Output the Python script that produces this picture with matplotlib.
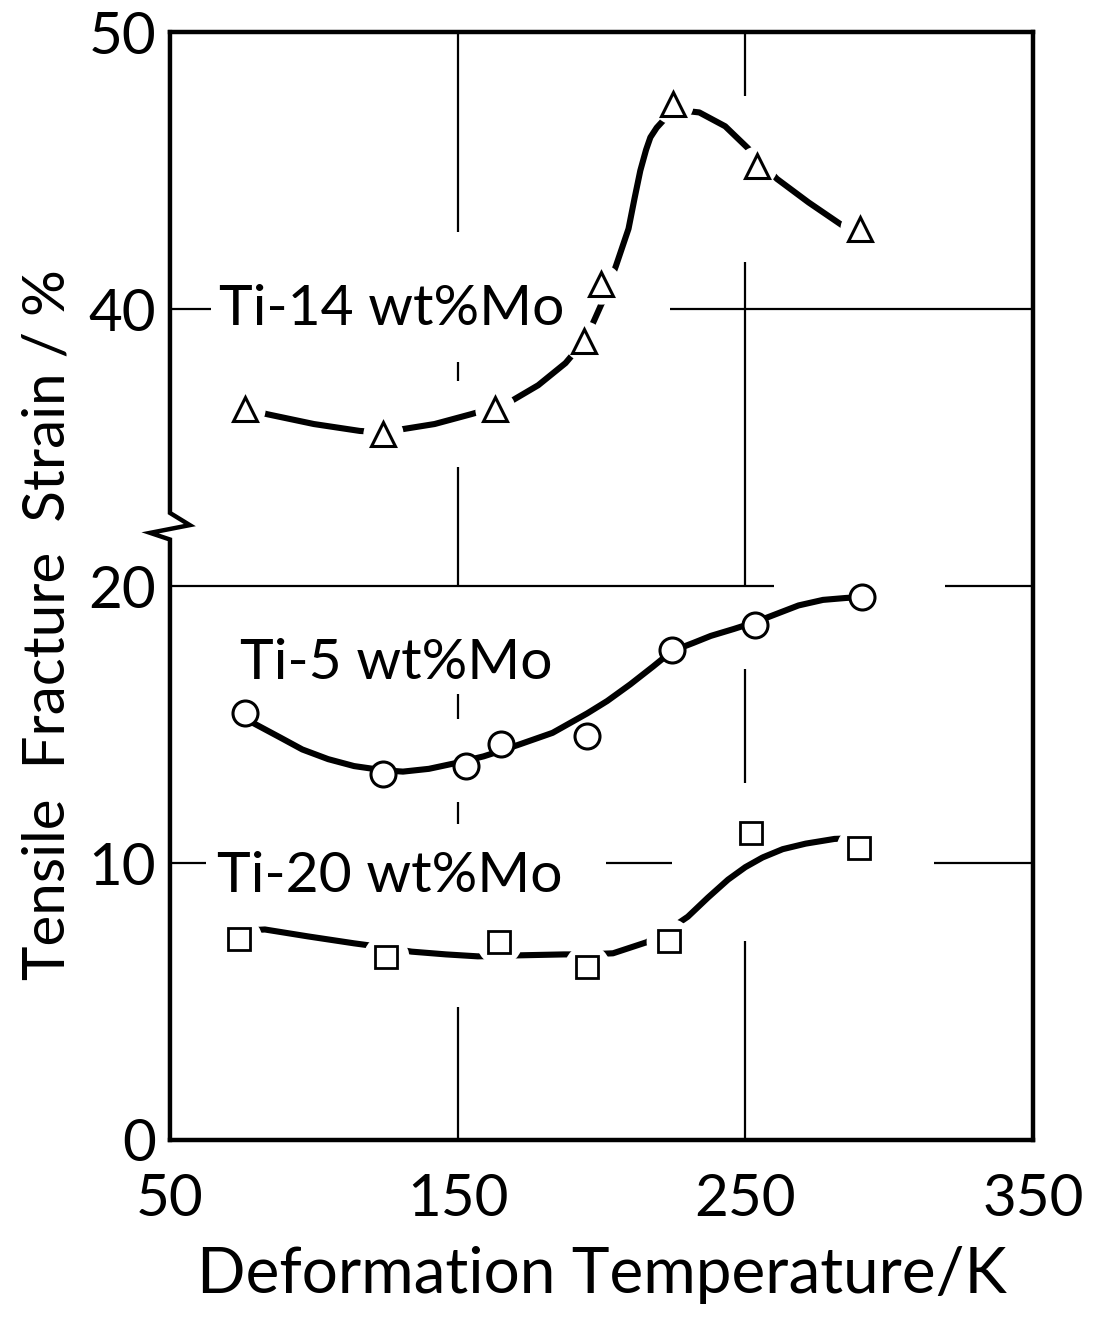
import matplotlib
matplotlib.use('Agg')
import matplotlib.pyplot as plt
import numpy as np

plt.rcParams['font.family'] = ['Lato', 'DejaVu Sans']

# measured points (K, %)
temp_14 = [76, 124, 163, 194, 200, 225, 254, 290]
strain_14 = [36.4, 35.5, 36.4, 38.85, 40.9, 47.4, 45.15, 42.9]
temp_5 = [76, 124, 153, 165, 195, 224.5, 253.5, 290.5]
strain_5 = [15.4, 13.2, 13.5, 14.3, 14.6, 17.7, 18.6, 19.6]
temp_20 = [74, 125, 164.5, 195, 223.5, 252, 289.5]
strain_20 = [7.25, 6.6, 7.15, 6.25, 7.2, 11.1, 10.55]

# hand drawn guide curves
curve_14_t = [76, 84, 100, 116, 124, 130, 142, 154.5, 163, 169, 178, 187.5, 194.4, 197.5,
              200.5, 205, 209.4, 211.5, 213.5, 215.5, 217, 219.2, 221.4, 225.3, 234, 243, 251, 254,
              261, 272, 284, 288]
curve_14_s = [36.4, 36.2, 35.85, 35.6, 35.55, 35.65, 35.85, 36.2, 36.45, 36.7, 37.25, 38.05, 38.9, 39.6,
              40.3, 41.55, 42.9, 44.0, 45.0, 45.75, 46.2, 46.55, 46.8, 47.2, 47.1, 46.6, 45.8, 45.45,
              44.7, 43.85, 43.0, 42.7]
curve_5_t = [76, 79, 88, 96, 105, 114, 124, 131, 140, 149, 153, 159, 165, 172, 183, 195, 202,
             210, 218, 224.5, 232, 238, 246, 253.5, 261, 268.5, 277, 285, 290.5]
curve_5_s = [15.4, 15.05, 14.55, 14.1, 13.75, 13.5, 13.35, 13.3, 13.4, 13.6, 13.7, 13.85, 14.05, 14.3,
             14.7, 15.4, 15.85, 16.45, 17.1, 17.65, 17.95, 18.2, 18.45, 18.7, 19.0, 19.3, 19.5, 19.57, 19.6]
curve_20_t = [74, 83, 98, 114, 124.7, 134, 146, 157, 164.5, 173, 187, 195, 204, 215.7, 223.5,
              230, 237, 244, 250, 256, 263, 271, 281, 289]
curve_20_s = [7.55, 7.6, 7.35, 7.1, 6.95, 6.8, 6.7, 6.63, 6.65, 6.67, 6.7, 6.7, 6.74, 7.14, 7.6,
              8.06, 8.75, 9.4, 9.85, 10.2, 10.5, 10.7, 10.87, 10.9]

xticks = [50, 150, 250, 350]
yticks = [0, 10, 20, 40, 50]
ytick_labels = ['0', '10', '20', '40', '50']

# axis break: 22.4 .. 32.6 is squeezed to almost nothing
B_LO, B_HI, B_GAP = 22.4, 32.6, 0.2


def squash(v):
    v = np.asarray(v, dtype=float)
    mid = B_LO + (v - B_LO) * B_GAP / (B_HI - B_LO)
    return np.where(v <= B_LO, v, np.where(v >= B_HI, v - (B_HI - B_LO - B_GAP), mid))


def unsquash(d):
    d = np.asarray(d, dtype=float)
    mid = B_LO + (d - B_LO) * (B_HI - B_LO) / B_GAP
    return np.where(d <= B_LO, d, np.where(d >= B_LO + B_GAP, d + (B_HI - B_LO - B_GAP), mid))


fig = plt.figure(figsize=(10.93, 13.38), dpi=100)
ax = fig.add_axes([0.1555, 0.148, 0.7896, 0.828])
ax.set_yscale('function', functions=(squash, unsquash))
ax.set_xlim(50, 350)
ax.set_ylim(0, 50)

# grid pieces, broken where the labels and marks sit
grid_kw = dict(color='black', lw=1.6, zorder=1)
for x0, x1 in [(50, 64.2), (223.8, 350)]:
    ax.hlines(40, x0, x1, **grid_kw)
for x0, x1 in [(50, 260), (319.3, 350)]:
    ax.hlines(20, x0, x1, **grid_kw)
for x0, x1 in [(50, 62.5), (201.6, 224.6), (315.5, 350)]:
    ax.hlines(10, x0, x1, **grid_kw)
for y0, y1 in [(42.8, 50), (37.4, 38.1), (20, 34.3), (15.2, 16.1), (11.4, 12.2), (0, 4.8)]:
    ax.vlines(150, y0, y1, **grid_kw)
for y0, y1 in [(47.7, 50), (20, 41.7), (12.9, 17.0), (0, 7.2)]:
    ax.vlines(250, y0, y1, **grid_kw)

# guide curves
for ct, cs in [(curve_14_t, curve_14_s), (curve_5_t, curve_5_s), (curve_20_t, curve_20_s)]:
    ax.plot(ct, cs, color='black', lw=4.4, solid_capstyle='round', solid_joinstyle='round', zorder=3)

# white halos cut the curves around the markers
ax.plot(temp_14, strain_14, ls='none', marker='o', ms=29, mfc='white', mec='none', zorder=4)
ax.plot(temp_20, strain_20, ls='none', marker='o', ms=33, mfc='white', mec='none', zorder=4)

ax.plot(temp_14, strain_14, ls='none', marker='^', ms=17, mfc='white', mec='black', mew=2.2, zorder=5)
ax.plot(temp_5, strain_5, ls='none', marker='o', ms=18, mfc='white', mec='black', mew=2.2, zorder=5)
ax.plot(temp_20, strain_20, ls='none', marker='s', ms=16, mfc='white', mec='black', mew=2.0, zorder=5)

ax.text(67, 40, 'Ti-14 wt%Mo', fontsize=41, va='center', ha='left', zorder=6)
ax.text(74.3, 17.2, 'Ti-5 wt%Mo', fontsize=41, va='center', ha='left', zorder=6)
ax.text(66.5, 9.5, 'Ti-20 wt%Mo', fontsize=41, va='center', ha='left', zorder=6)

# frame, left side drawn by hand with the break mark
for s in ['top', 'right', 'bottom']:
    ax.spines[s].set_linewidth(3.2)
ax.spines['left'].set_visible(False)
ax.plot([0, 0, -0.023, 0.023, 0, 0], [0, 0.542, 0.548, 0.555, 0.566, 1.0],
        transform=ax.transAxes, color='black', lw=3.2, clip_on=False,
        solid_joinstyle='miter', zorder=6)

ax.set_xticks(xticks)
ax.set_xticklabels([str(t) for t in xticks])
ax.set_yticks(yticks)
ax.set_yticklabels(ytick_labels)
ax.minorticks_off()
ax.tick_params(axis='both', length=0, labelsize=42)
ax.tick_params(axis='x', pad=24)
ax.tick_params(axis='y', pad=10)

ax.set_xlabel('Deformation Temperature/K', fontsize=46, va='center')
ax.xaxis.set_label_coords(0.5, -0.122)
ax.set_ylabel('Tensile  Fracture  Strain / %', fontsize=42, va='center')
ax.yaxis.set_label_coords(-0.141, 0.465)

fig.savefig('out.png', dpi=100)
